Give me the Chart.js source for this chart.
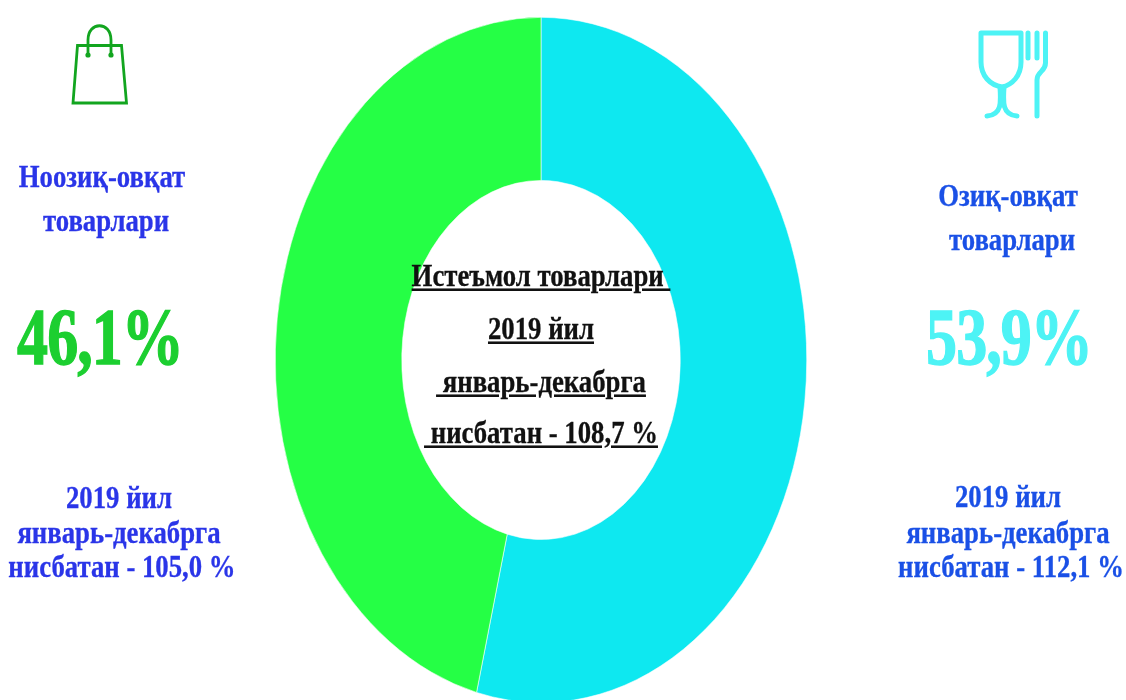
<!DOCTYPE html>
<html><head><meta charset="utf-8">
<style>
html,body{margin:0;padding:0;background:#fff;overflow:hidden}
#wrap{position:relative;width:1126px;height:700px;overflow:hidden}
canvas{position:absolute;left:0;top:0}
.t{position:absolute;font-family:"Liberation Serif",serif;font-weight:bold;white-space:pre;text-align:center;transform-origin:center center;line-height:1;transform:translate(-50%,-50%) scale(var(--sx,1.07),var(--sy,1.28));-webkit-text-stroke:.25px currentColor;filter:blur(.35px)}
.big{-webkit-text-stroke:1.1px currentColor;letter-spacing:-1px}
svg{position:absolute;overflow:visible;filter:blur(.3px)}
</style></head><body>
<div id="wrap">
<canvas id="c" width="1126" height="700"></canvas>
<svg style="left:0;top:0" width="1126" height="700">
<g fill="none" stroke="#12a51f" stroke-width="2.8">
<path d="M77.5 45.5H121.5L126.5 103H73Z"/>
<path d="M88 54V40C88 21 111 21 111 40V54"/>
</g>
<circle cx="88" cy="55" r="2.6" fill="#12a51f"/><circle cx="111" cy="55" r="2.6" fill="#12a51f"/>
<g fill="none" stroke="#4df3f5" stroke-width="5" stroke-linecap="round" stroke-linejoin="round">
<path d="M981 33H1021V62C1021 76 1012 85 1002 87C990 85 981 76 981 62Z"/>
<path d="M1000 87C1001 102 1002 115 987 116M1004 87C1003 102 1002 115 1017 116"/>
<path d="M1028 33V58M1037 33V58M1045.5 33V63C1045.5 72 1037 71 1037 80V116"/>
</g>
</svg>
<div class="t" style="left:102px;top:176px;font-size:25px;color:#2a35e8">Ноозиқ-овқат</div>
<div class="t" style="left:106px;top:220px;font-size:25px;color:#2a35e8">товарлари</div>
<div class="t big" style="left:100px;top:338px;font-size:64px;color:#1ccf30;--sx:.97;--sy:1.25">46,1%</div>
<div class="t" style="left:119px;top:497px;font-size:25px;color:#2a35e8">2019 йил</div>
<div class="t" style="left:119px;top:532px;font-size:25px;color:#2a35e8">январь-декабрга</div>
<div class="t" style="left:122px;top:566px;font-size:25px;color:#2a35e8">нисбатан - 105,0 %</div>
<div class="t" style="left:1008px;top:195px;font-size:25px;color:#1a50e6">Озиқ-овқат</div>
<div class="t" style="left:1012px;top:239px;font-size:25px;color:#1a50e6">товарлари</div>
<div class="t big" style="left:1009px;top:338px;font-size:64px;color:#4df3f5;--sx:.97;--sy:1.25">53,9%</div>
<div class="t" style="left:1008px;top:496px;font-size:25px;color:#1a50e6">2019 йил</div>
<div class="t" style="left:1008px;top:532px;font-size:25px;color:#1a50e6">январь-декабрга</div>
<div class="t" style="left:1011px;top:566px;font-size:25px;color:#1a50e6">нисбатан - 112,1 %</div>
<div class="t" style="left:541px;top:275px;font-size:25px;color:#111;text-decoration:underline">Истеъмол товарлари </div>
<div class="t" style="left:541px;top:328px;font-size:25px;color:#111;text-decoration:underline">2019 йил</div>
<div class="t" style="left:541px;top:381px;font-size:25px;color:#111;text-decoration:underline"> январь-декабрга</div>
<div class="t" style="left:541px;top:432px;font-size:25px;color:#111;text-decoration:underline"> нисбатан - 108,7 %</div>
</div>
<script src="https://cdn.jsdelivr.net/npm/chart.js@4/dist/chart.umd.min.js"></script>
<script>
const categories = ["Озиқ-овқат товарлари", "Ноозиқ-овқат товарлари"];
const shares = [53.9, 46.1];
const sliceColors = ["#0ee8f0", "#25ff45"];

const stretchY = {
  id: "stretchY",
  beforeDatasetsDraw(chart) {
    const ctx = chart.ctx, a = chart.chartArea, cy = (a.top + a.bottom) / 2;
    ctx.save();
    ctx.translate(0, 360);
    ctx.scale(1, 343 / 266);
    ctx.translate(0, -cy);
  },
  afterDatasetsDraw(chart) { chart.ctx.restore(); }
};

new Chart(document.getElementById("c"), {
  type: "doughnut",
  data: { labels: categories, datasets: [{ data: shares, backgroundColor: sliceColors, borderColor: "#ffffff", borderWidth: 0.5 }] },
  options: {
    responsive: false, animation: false, cutout: "52.4%",
    layout: { padding: { left: 275, right: 319, top: 0, bottom: 0 } },
    plugins: { legend: { display: false }, tooltip: { enabled: false } }
  },
  plugins: [stretchY]
});
</script>
</body></html>
